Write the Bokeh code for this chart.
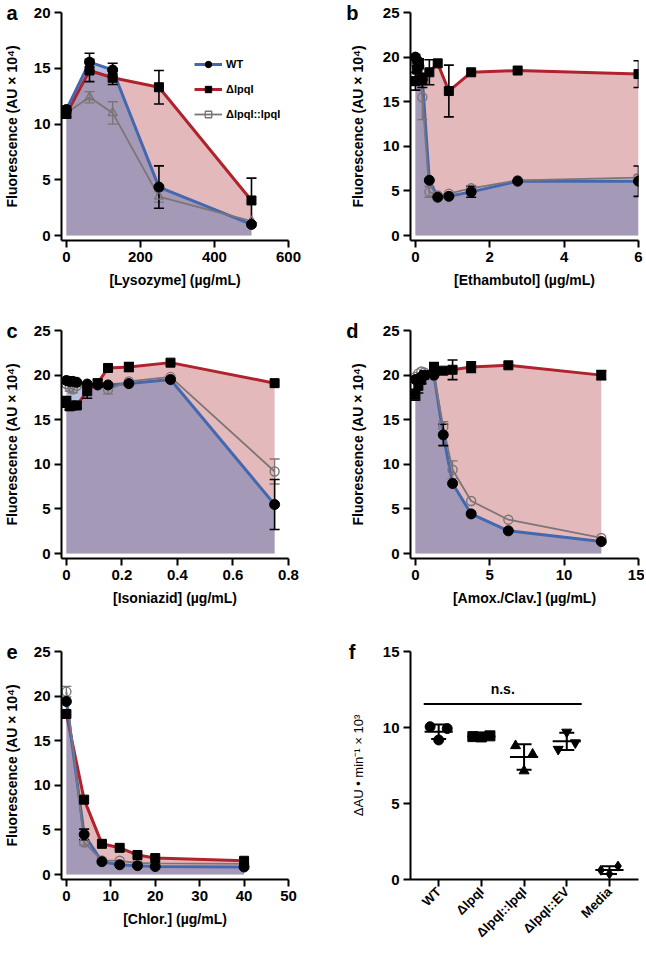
import numpy as np
from math import pi
from bokeh.plotting import figure
from bokeh.layouts import row, column
from bokeh.models import Range1d, FixedTicker, Legend, LegendItem, LinearAxis
from bokeh.embed import file_html
from bokeh.resources import INLINE
from bokeh.core.properties import value

# ---------------- data ----------------
# panel a: lysozyme
a_x = [0, 62.5, 125, 250, 500]
a_wt = [11.3, 15.55, 14.85, 4.35, 1.0]
a_wt_err = [0.3, 0.8, 0.6, 1.9, 0.0]
a_ko = [10.9, 14.8, 14.15, 13.3, 3.15]
a_ko_err = [0.3, 1.0, 0.6, 1.5, 2.0]
a_comp = [11.0, 12.4, 11.0, 3.5, 1.3]
a_comp_err = [0.3, 0.5, 1.0, 0.5, 0.0]

# panel b: ethambutol
b_x = [0, 0.047, 0.094, 0.1875, 0.375, 0.6, 0.9, 1.5, 2.75, 6.0]
b_wt = [20.0, 19.6, 19.0, 17.5, 6.2, 4.3, 4.4, 4.9, 6.1, 6.1]
b_wt_err = [0.3, 0.3, 0.3, 0.5, 0.0, 0.0, 0.0, 0.6, 0.0, 1.7]
b_ko = [17.3, 18.6, 19.3, 17.4, 18.3, 19.3, 16.2, 18.3, 18.5, 18.1]
b_ko_err = [1.0, 0.8, 0.5, 0.8, 1.4, 0.0, 2.9, 0.0, 0.0, 1.5]
b_comp = [19.5, 19.3, 18.8, 15.5, 4.9, 4.5, 4.7, 5.3, 6.2, 6.5]
b_comp_err = [0.5, 0.5, 0.6, 2.5, 0.6, 0.0, 0.0, 0.3, 0.0, 0.3]

# panel c: isoniazid
c_x = [0, 0.0117, 0.0234, 0.0375, 0.075, 0.1125, 0.15, 0.225, 0.375, 0.75]
c_wt = [19.4, 19.3, 19.3, 19.2, 19.0, 18.9, 18.9, 19.05, 19.5, 5.5]
c_wt_err = [0.0, 0.0, 0.0, 0.0, 0.0, 0.0, 0.0, 0.0, 0.0, 2.8]
c_ko = [17.0, 16.5, 16.6, 16.6, 18.2, 19.1, 20.8, 20.9, 21.4, 19.1]
c_ko_err = [0.6, 0.4, 0.4, 0.3, 0.8, 0.4, 0.0, 0.5, 0.0, 0.0]
c_comp = [19.0, 18.6, 18.4, 18.8, 18.7, 18.9, 18.4, 19.3, 19.8, 9.2]
c_comp_err = [0.0, 0.4, 0.4, 0.0, 0.0, 0.0, 0.5, 0.0, 0.0, 1.4]

# panel d: amox./clav.
d_x = [0, 0.2, 0.4, 0.6, 1.25, 1.875, 2.5, 3.75, 6.25, 12.5]
d_wt = [19.5, 19.6, 19.8, 20.0, 20.0, 13.3, 7.85, 4.45, 2.55, 1.35]
d_wt_err = [0.0, 0.0, 0.0, 0.0, 0.0, 1.2, 0.0, 0.0, 0.0, 0.0]
d_ko = [17.8, 18.8, 19.5, 20.0, 20.9, 20.5, 20.6, 20.9, 21.1, 20.0]
d_ko_err = [0.6, 0.8, 0.5, 0.0, 0.5, 0.0, 1.1, 0.6, 0.0, 0.5]
d_comp = [19.8, 20.2, 20.4, 20.3, 19.9, 14.2, 9.4, 5.9, 3.8, 1.75]
d_comp_err = [0.0, 0.0, 0.0, 0.0, 0.0, 0.6, 1.0, 0.0, 0.0, 0.0]

# panel e: chloramphenicol
e_x = [0, 4, 8, 12, 16, 20, 40]
e_wt = [19.4, 4.5, 1.45, 1.1, 1.0, 0.9, 0.85]
e_wt_err = [0.0, 0.6, 0.0, 0.0, 0.0, 0.0, 0.0]
e_ko = [18.0, 8.4, 3.45, 3.0, 2.2, 1.85, 1.55]
e_ko_err = [0.0, 0.0, 0.0, 0.0, 0.0, 0.0, 0.0]
e_comp = [20.5, 3.6, 1.6, 1.55, 1.3, 1.25, 1.2]
e_comp_err = [0.6, 0.3, 0.0, 0.0, 0.0, 0.0, 0.0]

# panel f
f_cats = ["WT", "ΔlpqI", "ΔlpqI::lpqI", "ΔlpqI::EV", "Media"]
f_vals = [
    [10.05, 9.18, 9.93],
    [9.4, 9.38, 9.45],
    [8.8, 7.14, 8.24],
    [8.57, 9.7, 9.0],
    [0.61, 0.37, 0.88],
]
f_markers = ["circle", "square", "triangle", "inverted_triangle", "diamond"]
f_ns_y = 11.55

legend_labels = ["WT", "ΔlpqI", "ΔlpqI::lpqI"]

# ---------------- style ----------------
FONT = "Liberation Sans"
BLUE = "#4468b0"
RED = "#b0222c"
RED_FILL = "#b23740"
GREY = "#7d7478"
YLABEL = "Fluorescence (AU × 10⁴)"


def style_axes(p, xticks, yticks):
    for ax in (p.xaxis, p.yaxis):
        ax.axis_line_width = 2
        ax.axis_line_color = "black"
        ax.major_tick_line_width = 2
        ax.major_tick_line_color = "black"
        ax.major_tick_out = 7
        ax.major_tick_in = 0
        ax.minor_tick_line_color = None
        ax.major_label_text_font = FONT
        ax.major_label_text_font_style = "bold"
        ax.major_label_text_font_size = "15px"
        ax.major_label_text_color = "black"
        ax.major_label_standoff = 4
        ax.axis_label_text_font = FONT
        ax.axis_label_text_font_style = "bold"
        ax.axis_label_text_font_size = "14px"
        ax.axis_label_text_color = "black"
    p.xaxis.ticker = FixedTicker(ticks=xticks)
    p.yaxis.ticker = FixedTicker(ticks=yticks)
    p.xgrid.grid_line_color = None
    p.ygrid.grid_line_color = None
    p.outline_line_color = None


def add_letter(p, letter, ytop, standoff):
    # panel letter drawn as the single tick label of an extra, line-less left axis
    ax = LinearAxis(ticker=FixedTicker(ticks=[ytop]),
                    major_label_overrides={ytop: letter},
                    axis_line_color=None, major_tick_line_color=None,
                    minor_tick_line_color=None, major_tick_out=0, major_tick_in=0,
                    major_label_standoff=standoff,
                    major_label_text_font=FONT, major_label_text_font_style="bold",
                    major_label_text_font_size="20px", major_label_text_color="black",
                    major_label_text_baseline="alphabetic")
    p.add_layout(ax, "left")


def add_err(p, x, y, e, color, cap=10, lw=1.6):
    xs = [xi for xi, ei in zip(x, e) if ei > 0]
    ys = [yi for yi, ei in zip(y, e) if ei > 0]
    es = [ei for ei in e if ei > 0]
    if not xs:
        return
    lo = [yi - ei for yi, ei in zip(ys, es)]
    hi = [yi + ei for yi, ei in zip(ys, es)]
    p.segment(x0=xs, x1=xs, y0=lo, y1=hi, line_color=color, line_width=lw)
    p.scatter(xs, lo, marker="dash", size=cap, line_color=color, line_width=lw)
    p.scatter(xs, hi, marker="dash", size=cap, line_color=color, line_width=lw)


def curve_panel(letter, x, wt, wt_err, ko, ko_err, comp, comp_err,
                xmax, ymax, xticks, yticks, xlabel, comp_marker,
                width, height, left, right, top, bottom, letter_standoff, ylab_standoff):
    fw = width - left - right
    fh = height - top - bottom
    xpad = xmax * 5.0 / fw
    ypad = ymax * 5.0 / fh
    p = figure(width=width, height=height,
               x_range=Range1d(-xpad, xmax), y_range=Range1d(-ypad, ymax),
               output_backend="svg", toolbar_location=None,
               min_border_left=left, min_border_right=right,
               min_border_top=top, min_border_bottom=bottom,
               background_fill_color="white", border_fill_color="white")
    style_axes(p, xticks, yticks)
    p.xaxis.axis_label = xlabel
    p.yaxis.axis_label = YLABEL
    p.xaxis.axis_label_standoff = 7
    p.yaxis.axis_label_standoff = ylab_standoff
    p.xaxis.major_label_overrides = {0: "0"}
    add_letter(p, letter, ymax, letter_standoff)

    p.varea(x=x, y1=[0] * len(x), y2=ko, fill_color=RED_FILL, fill_alpha=0.35)
    p.varea(x=x, y1=[0] * len(x), y2=wt, fill_color=BLUE, fill_alpha=0.4)
    rl = {}
    rl["ko_line"] = p.line(x, ko, line_color=RED, line_width=3)
    rl["wt_line"] = p.line(x, wt, line_color=BLUE, line_width=3)
    rl["comp_line"] = p.line(x, comp, line_color=GREY, line_width=1.8)

    add_err(p, x, comp, comp_err, GREY, lw=1.3)
    add_err(p, x, ko, ko_err, "black")
    add_err(p, x, wt, wt_err, "black")

    # open square used only as the legend glyph; hidden beneath the first black square
    rl["comp_key"] = p.scatter(x[:1], ko[:1], marker="square", size=8, fill_color=None,
                               line_color=GREY, line_width=1.4)
    p.scatter(x, comp, marker=comp_marker, size=9, fill_color=None,
              line_color=GREY, line_width=1.4)
    rl["ko_pts"] = p.scatter(x, ko, marker="square", size=9, fill_color="black",
                             line_color="black")
    rl["wt_pts"] = p.scatter(x, wt, marker="circle", size=10, fill_color="black",
                             line_color="black")
    return p, rl


# layout geometry (page has no margin: figures start at the window corner)
W1, W2 = 323, 321
H1, H2, H3 = 316, 320, 316
L1, R1 = 61, 35
L2, R2 = 87, 6
FH = 228
T1, T2, T3 = 12, 14, 15
SD1, SD2 = -17, -12
YS1, YS2 = 11, 14

pa, ra = curve_panel("a", a_x, a_wt, a_wt_err, a_ko, a_ko_err, a_comp, a_comp_err,
                     600, 20, [0, 200, 400, 600], [0, 5, 10, 15, 20],
                     "[Lysozyme] (µg/mL)", "triangle",
                     W1, H1, L1, R1, T1, H1 - T1 - FH, SD1, YS1)
pb, _ = curve_panel("b", b_x, b_wt, b_wt_err, b_ko, b_ko_err, b_comp, b_comp_err,
                    6, 25, [0, 2, 4, 6], [0, 5, 10, 15, 20, 25],
                    "[Ethambutol] (µg/mL)", "circle",
                    W2, H1, L2, R2, T1, H1 - T1 - FH, SD2, YS2)
pc, _ = curve_panel("c", c_x, c_wt, c_wt_err, c_ko, c_ko_err, c_comp, c_comp_err,
                    0.8, 25, [0, 0.2, 0.4, 0.6, 0.8], [0, 5, 10, 15, 20, 25],
                    "[Isoniazid] (µg/mL)", "circle",
                    W1, H2, L1, R1, T2, H2 - T2 - FH, SD1, YS1)
pd_, _ = curve_panel("d", d_x, d_wt, d_wt_err, d_ko, d_ko_err, d_comp, d_comp_err,
                     15, 25, [0, 5, 10, 15], [0, 5, 10, 15, 20, 25],
                     "[Amox./Clav.] (µg/mL)", "circle",
                     W2, H2, L2, R2, T2, H2 - T2 - FH, SD2, YS2)
pe, _ = curve_panel("e", e_x, e_wt, e_wt_err, e_ko, e_ko_err, e_comp, e_comp_err,
                    50, 25, [0, 10, 20, 30, 40, 50], [0, 5, 10, 15, 20, 25],
                    "[Chlor.] (µg/mL)", "circle",
                    W1, H3, L1, R1, T3, H3 - T3 - FH, SD1, YS1)

# legend for panel a
leg_items = [
    LegendItem(label=legend_labels[0], renderers=[ra["wt_line"], ra["wt_pts"]]),
    LegendItem(label=legend_labels[1], renderers=[ra["ko_line"], ra["ko_pts"]]),
    LegendItem(label=legend_labels[2], renderers=[ra["comp_line"], ra["comp_key"]]),
]
legend = Legend(items=leg_items, location=(W1 - L1 - R1 - 94, FH - 43 - 67),
                padding=0, margin=0, spacing=9,
                glyph_height=16, glyph_width=28, label_height=16, label_standoff=4,
                label_text_font=FONT, label_text_font_style="bold",
                label_text_font_size="11px", label_text_color="black",
                background_fill_alpha=0, border_line_alpha=0)
pa.add_layout(legend)

# panel f
pf = figure(width=W2, height=H3, x_range=Range1d(-0.66, 4.68), y_range=Range1d(0, 15),
            output_backend="svg", toolbar_location=None,
            min_border_left=L2, min_border_right=R2, min_border_top=T3,
            min_border_bottom=H3 - T3 - FH,
            background_fill_color="white", border_fill_color="white")
style_axes(pf, [0, 1, 2, 3, 4], [0, 5, 10, 15])
pf.xaxis.major_label_overrides = {i: c for i, c in enumerate(f_cats)}
pf.xaxis.major_label_orientation = pi / 4
pf.xaxis.major_label_text_font_size = "13px"
pf.xaxis.major_label_standoff = 3
pf.yaxis.axis_label = "ΔAU • min⁻¹ × 10³"
pf.yaxis.axis_label_text_font_style = "normal"
pf.yaxis.axis_label_text_font_size = "13px"
pf.yaxis.axis_label_standoff = 14
add_letter(pf, "f", 15, -8)

offsets = [-0.2, 0.0, 0.2]
means, sds = [], []
for i, (vals, mk) in enumerate(zip(f_vals, f_markers)):
    m = float(np.mean(vals))
    s = float(np.std(vals, ddof=1))
    means.append(m)
    sds.append(s)
    pf.scatter([i + o for o in offsets], vals, marker=mk, size=10,
               fill_color="black", line_color="black")
cx = list(range(len(f_cats)))
pf.segment(x0=[c - 0.33 for c in cx], x1=[c + 0.33 for c in cx], y0=means, y1=means,
           line_color="black", line_width=2)
lo = [m - s for m, s in zip(means, sds)]
hi = [m + s for m, s in zip(means, sds)]
pf.segment(x0=cx, x1=cx, y0=lo, y1=hi, line_color="black", line_width=2)
pf.scatter(cx, lo, marker="dash", size=15, line_color="black", line_width=2)
pf.scatter(cx, hi, marker="dash", size=15, line_color="black", line_width=2)
pf.segment(x0=[-0.35], x1=[3.35], y0=[f_ns_y], y1=[f_ns_y], line_color="black", line_width=2)
pf.text(x=[1.5], y=[f_ns_y + 0.45], text=["n.s."], text_font=value(FONT),
        text_font_style="bold", text_font_size="14px", text_align="center",
        text_baseline="bottom", text_color="black")

layout = column(row(pa, pb), row(pc, pd_), row(pe, pf))
open("out.html", "w").write(file_html(layout, INLINE))
